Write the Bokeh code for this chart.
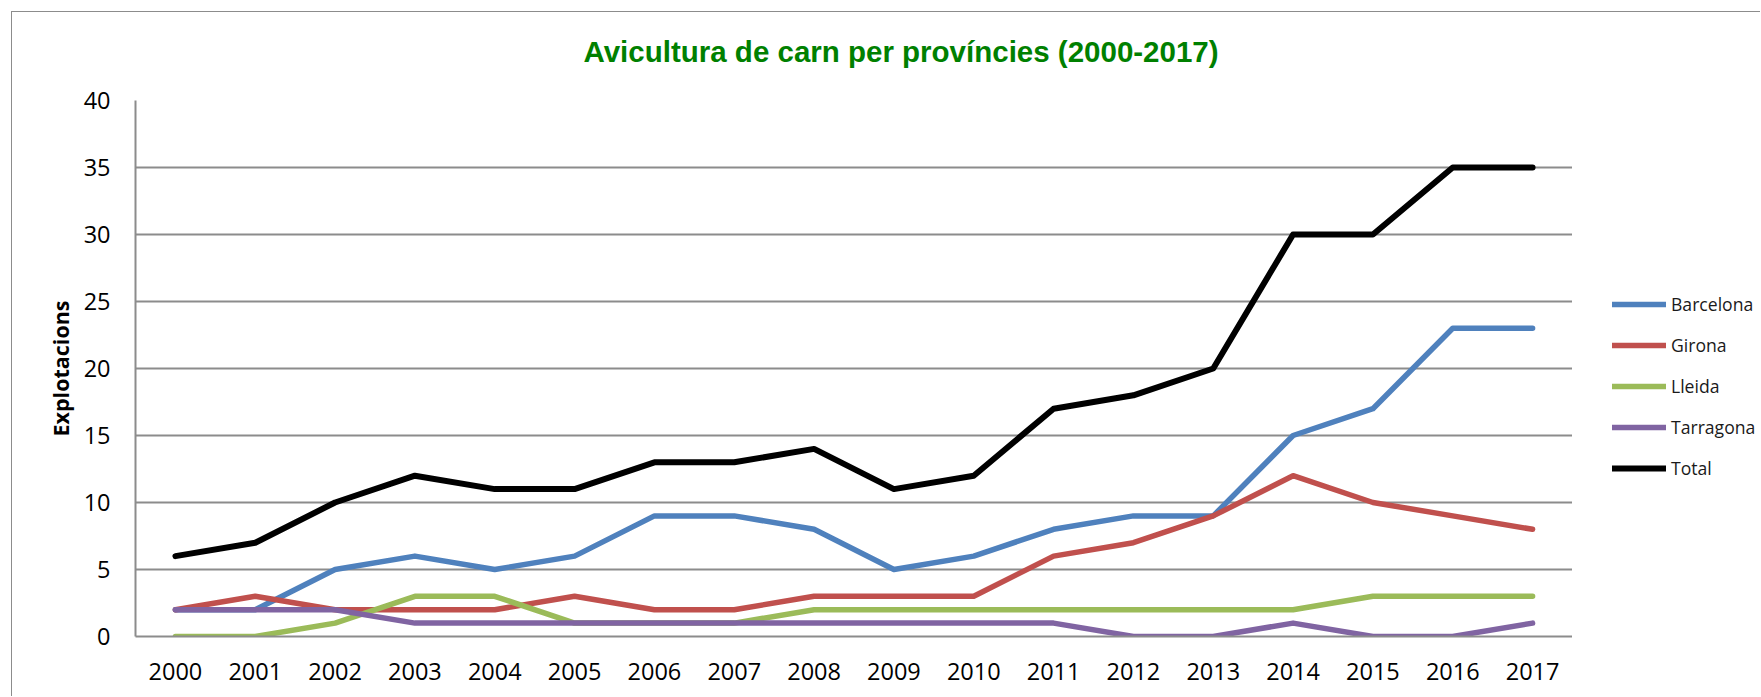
from bokeh.plotting import figure
from bokeh.layouts import row
from bokeh.models import Range1d, FactorRange, FixedTicker, Legend, LegendItem, Title
from bokeh.embed import file_html
from bokeh.resources import INLINE

years = [str(y) for y in range(2000, 2018)]
barcelona = [2, 2, 5, 6, 5, 6, 9, 9, 8, 5, 6, 8, 9, 9, 15, 17, 23, 23]
girona = [2, 3, 2, 2, 2, 3, 2, 2, 3, 3, 3, 6, 7, 9, 12, 10, 9, 8]
lleida = [0, 0, 1, 3, 3, 1, 1, 1, 2, 2, 2, 2, 2, 2, 2, 3, 3, 3]
tarragona = [2, 2, 2, 1, 1, 1, 1, 1, 1, 1, 1, 1, 0, 0, 1, 0, 0, 1]
total = [6, 7, 10, 12, 11, 11, 13, 13, 14, 11, 12, 17, 18, 20, 30, 30, 35, 35]
y_ticks = [0, 5, 10, 15, 20, 25, 30, 35, 40]

series = [
    ("Barcelona", barcelona, "#4F81BD", 5.5),
    ("Girona", girona, "#C0504D", 5.5),
    ("Lleida", lleida, "#9BBB59", 5.5),
    ("Tarragona", tarragona, "#8064A2", 5.5),
    ("Total", total, "#000000", 6),
]

GRID = "#8c8c8c"
FONT = "Open Sans"
H = 684

p = figure(
    width=1560, height=H,
    x_range=FactorRange(factors=years, range_padding=0),
    y_range=Range1d(0, 40),
    output_backend="svg", toolbar_location=None,
    min_border_left=123, min_border_right=0,
    min_border_top=88, min_border_bottom=60,
)
p.outline_line_color = None
p.background_fill_color = "white"
p.border_fill_color = "white"

# spacer between frame and title (added first -> closest to the frame)
p.add_layout(Title(text=" ", text_font_size="1px", standoff=28), "above")
p.add_layout(Title(text="Avicultura de carn per províncies (2000-2017)",
                   align="left", offset=448, standoff=4,
                   text_font="Liberation Sans", text_font_style="bold",
                   text_font_size="29.5px", text_color="#008000"), "above")

p.xgrid.grid_line_color = None
p.ygrid.ticker = FixedTicker(ticks=y_ticks)
p.ygrid.grid_line_color = GRID
p.ygrid.grid_line_width = 2

p.yaxis.ticker = FixedTicker(ticks=y_ticks)
for ax in (p.xaxis[0], p.yaxis[0]):
    ax.axis_line_color = GRID
    ax.axis_line_width = 2
    ax.major_tick_line_color = None
    ax.minor_tick_line_color = None
    ax.major_label_text_font = FONT
    ax.major_label_text_font_size = "23.5px"
    ax.major_label_text_color = "#000000"
p.xaxis.major_label_standoff = 20
p.yaxis.major_label_standoff = 19
p.yaxis.axis_label = "Explotacions"
p.yaxis.axis_label_text_font = FONT
p.yaxis.axis_label_text_font_style = "bold"
p.yaxis.axis_label_text_font_size = "21.5px"
p.yaxis.axis_label_text_color = "#000000"
p.yaxis.axis_label_standoff = 6

for name, vals, col, lw in series:
    p.line(years, vals, line_width=lw, line_color=col,
           line_cap="round", line_join="round")

# legend panel as a separate small figure (its lines fall outside its range)
year_nums = [int(y) for y in years]
pl = figure(width=188, height=H, x_range=Range1d(0, 1), y_range=Range1d(0, 1),
            output_backend="svg", toolbar_location=None, min_border=0,
            x_axis_location=None, y_axis_location=None)
pl.outline_line_color = None
pl.background_fill_color = "white"
pl.border_fill_color = "white"
pl.xgrid.visible = False
pl.ygrid.visible = False

items = []
for name, vals, col, lw in series:
    r = pl.line(x=year_nums, y=vals, line_width=lw, line_color=col,
                line_cap="round", line_join="round")
    items.append(LegendItem(label=name, renderers=[r]))

legend = Legend(items=items, location=(40, 155))
legend.glyph_width = 54
legend.glyph_height = 26
legend.label_height = 26
legend.spacing = 15
legend.padding = 0
legend.margin = 0
legend.label_standoff = 5
legend.border_line_color = None
legend.background_fill_alpha = 0
legend.label_text_font = FONT
legend.label_text_font_size = "17.6px"
legend.label_text_color = "#1a1a1a"
pl.add_layout(legend)

layout = row(p, pl, spacing=0)
layout.styles = {"margin-left": "11px", "margin-top": "11px",
                 "border-left": "1px solid #8c8c8c",
                 "border-top": "1px solid #8c8c8c"}

open("out.html", "w").write(file_html(layout, INLINE))
